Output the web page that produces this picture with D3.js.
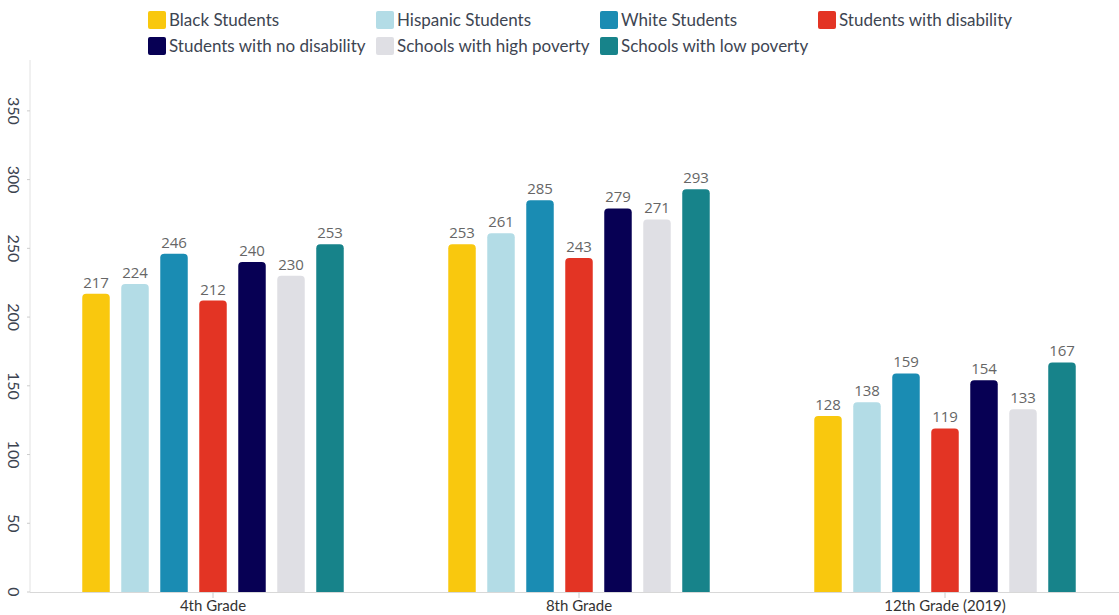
<!DOCTYPE html>
<html>
<head>
<meta charset="utf-8">
<script src="https://cdn.jsdelivr.net/npm/d3@7"></script>
<style>
  body { margin: 0; background: #fff; }
  svg { font-family: Lato, "Open Sans", sans-serif; }
</style>
</head>
<body>
<svg id="chart" width="1119" height="615"></svg>
<script>
const grades = ['4th Grade', '8th Grade', '12th Grade (2019)']
const groups = ['Black Students', 'Hispanic Students', 'White Students', 'Students with disability',
    'Students with no disability', 'Schools with high poverty', 'Schools with low poverty']
const colors = ['#f9c80e', '#b3dce6', '#1a8cb3', '#e33424', '#070054', '#dfdfe4', '#17838a']
const blackStudents = [217, 253, 128]
const hispanicStudents = [224, 261, 138]
const whiteStudents = [246, 285, 159]
const withDisability = [212, 243, 119]
const noDisability = [240, 279, 154]
const highPoverty = [230, 271, 133]
const lowPoverty = [253, 293, 167]
const yTicks = [0, 50, 100, 150, 200, 250, 300, 350]

const series = [blackStudents, hispanicStudents, whiteStudents, withDisability, noDisability, highPoverty, lowPoverty]
const rows = grades.map((g, i) => ({ grade: g, values: groups.map((k, j) => ({ key: k, value: series[j][i], color: colors[j] })) }))

const svg = d3.select('#chart')
const x0 = d3.scaleBand().domain(grades).range([30, 1128])
const x1 = d3.scaleBand().domain(groups).range([0, x0.bandwidth()]).paddingInner(0.295).paddingOuter(1.34)
const y = d3.scaleLinear().domain([0, 387]).range([592, 60])

// y axis
svg.append('line').attr('x1', 30).attr('x2', 30).attr('y1', 60).attr('y2', 592).attr('stroke', '#e2e2e2')
const yt = svg.append('g').selectAll('g').data(yTicks).enter().append('g')
yt.append('line').attr('x1', 27).attr('x2', 30).attr('y1', d => y(d)).attr('y2', d => y(d)).attr('stroke', '#ccc')
yt.append('text').
    attr('transform', d => `translate(14,${y(d)}) rotate(90)`).
    attr('text-anchor', 'middle').attr('dy', '0.35em').
    attr('font-size', 16).attr('fill', '#3c4350').
    text(d => d)

// bars
const rr = 4
function topRounded (x, yTop, w, yBase) {
    const r = Math.min(rr, (yBase - yTop))
    return `M${x},${yBase}V${yTop + r}Q${x},${yTop} ${x + r},${yTop}H${x + w - r}Q${x + w},${yTop} ${x + w},${yTop + r}V${yBase}Z`
}
const g = svg.append('g').selectAll('g').data(rows).enter().append('g').
    attr('transform', d => `translate(${x0(d.grade)},0)`)
g.selectAll('path').data(d => d.values).enter().append('path').
    attr('d', d => topRounded(x1(d.key), y(d.value), x1.bandwidth(), y(0))).
    attr('fill', d => d.color)
g.selectAll('text').data(d => d.values).enter().append('text').
    attr('x', d => x1(d.key) + x1.bandwidth() / 2).
    attr('y', d => y(d.value) - 6).
    attr('text-anchor', 'middle').attr('font-size', 15).attr('fill', '#666').
    attr('font-family', '"Open Sans", sans-serif').
    text(d => d.value)

// x axis
svg.append('line').attr('x1', 30).attr('x2', 1128).attr('y1', 592.5).attr('y2', 592.5).attr('stroke', '#d8d8d8')
const xt = svg.append('g').selectAll('g').data(grades).enter().append('g').
    attr('transform', d => `translate(${x0(d) + x0.bandwidth() / 2},0)`)
xt.append('line').attr('y1', 592).attr('y2', 598).attr('stroke', '#ccc')
xt.append('text').attr('y', 611).attr('text-anchor', 'middle').attr('font-size', 15).attr('fill', '#333').text(d => d)

// legend
const legendX = [148, 376, 600, 818]
const legend = svg.append('g').selectAll('g').data(groups).enter().append('g').
    attr('transform', (d, i) => `translate(${legendX[i % 4]},${i < 4 ? 20 : 46})`)
legend.append('rect').attr('x', 0).attr('y', -9).attr('width', 18).attr('height', 18).attr('rx', 2).
    attr('fill', (d, i) => colors[i])
legend.append('text').attr('x', 21).attr('dy', '0.35em').attr('font-size', 17).attr('fill', '#3d4552').text(d => d)
</script>
</body>
</html>
